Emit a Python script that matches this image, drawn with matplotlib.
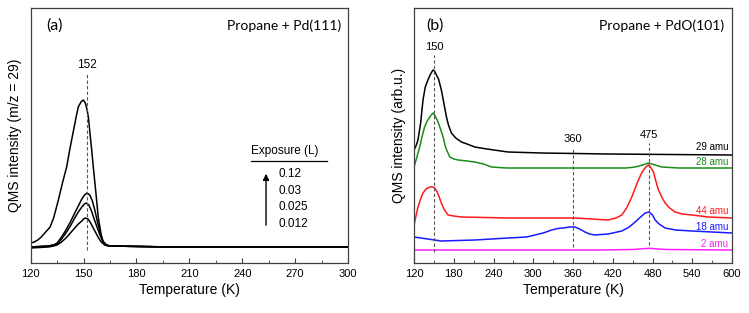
import matplotlib
matplotlib.use("Agg")
import matplotlib.pyplot as plt
from matplotlib.ticker import MultipleLocator

plt.rcParams['font.family'] = ['Liberation Sans', 'DejaVu Sans']

# ---------------- Panel (a) data ----------------
a_T_012 = [120, 122, 124, 126, 128, 131, 133, 135.7, 138, 140.4, 142, 144, 146, 147, 148.5, 149.8, 151, 152, 152.8, 153.6, 154.5, 155.5, 157, 158.3, 160, 161.2, 162.5, 165, 200, 250, 300]
a_I_012 = [20, 21, 23, 26, 30, 36, 45, 63, 80, 96, 112, 130, 148, 156, 161, 163, 160, 153, 145, 130, 115, 96, 70, 46, 28, 20, 18, 17, 16, 16, 16]

a_T_003 = [120, 130, 133, 135, 137.5, 140, 142.5, 145, 147, 149, 150.5, 152, 153.5, 155, 156.5, 158, 159.5, 161, 163, 165, 200, 250, 300]
a_I_003 = [16, 17, 18, 20, 26, 33, 41, 50, 57, 64, 68, 70, 68, 62, 52, 40, 30, 22, 18, 17, 16, 16, 16]

a_T_0025 = [120, 130, 133, 135, 137.5, 140, 142.5, 145, 147, 149, 150.5, 151.5, 153, 154.5, 156, 158, 159.5, 161, 163, 165, 200, 250, 300]
a_I_0025 = [16, 17, 18, 19, 24, 30, 37, 45, 51, 56, 59, 60, 58, 52, 44, 34, 27, 21, 18, 17, 16, 16, 16]

a_T_0012 = [120, 130, 133, 135, 137.5, 140, 142.5, 145, 147, 149, 150, 151, 152.5, 154, 155.5, 157, 158.5, 160, 162, 164, 200, 250, 300]
a_I_0012 = [15, 16, 17, 18, 21, 25, 30, 35, 39, 42, 44, 45, 44, 40, 35, 30, 25, 21, 18, 17, 16, 16, 16]

a_exposures = ["0.12", "0.03", "0.025", "0.012"]

# ---------------- Panel (b) data ----------------
b_T_29 = [120, 123, 126, 130, 133.6, 137, 141, 145, 148.7, 151, 153.8, 157, 161.3, 165, 169, 172, 176.5, 183, 191.6, 200, 211.8, 230, 262, 312.6, 413, 600]
b_I_29 = [113, 117, 123, 140, 163, 176, 183, 189, 193, 192, 188, 184, 173, 160, 146, 138, 130, 125, 121, 119, 116, 114, 111, 110, 109, 108]

b_T_28 = [120, 124, 128.6, 132, 136, 140, 143.7, 146, 148.7, 152, 156.3, 160, 163.9, 168, 174, 180, 186.6, 200, 211.8, 225, 237, 260, 312.6, 413, 440, 453.8, 465, 474, 484, 494, 520, 600]
b_I_28 = [96, 105, 116, 126, 136, 142, 146, 148, 150, 147, 141, 134, 126, 115, 106, 104, 103, 102, 101, 99, 96, 95, 95, 95, 95, 96, 98, 100, 98, 96, 95, 95]

b_T_44 = [120, 123, 126, 130, 133.6, 138, 143.7, 148, 151.3, 155, 158, 161.3, 166, 171.4, 180, 191.6, 262, 312.6, 363, 413, 425, 433.6, 441, 448.7, 454, 458.8, 463, 466.4, 470, 474, 477, 481.5, 485, 489, 494, 499, 506, 514, 525, 539.5, 564.7, 600]
b_I_44 = [38, 47, 56, 64, 70, 74, 76, 76, 75, 71, 66, 60, 53, 48, 47, 46, 45, 45, 45, 43, 45, 48, 55, 66, 75, 83, 89, 93, 96, 98, 96, 91, 82, 73, 66, 60, 55, 51, 49, 48, 46, 45]

b_T_18 = [120, 161, 212, 262, 290, 302.5, 315, 327.7, 337, 345, 355, 363, 370, 378, 385, 393, 413, 433.6, 445, 453.8, 462, 469, 475, 480, 484, 490, 499, 515, 539.5, 600]
b_I_18 = [26, 22, 23, 25, 26, 28, 30, 33, 34.5, 35, 36, 36, 34, 31, 29, 28, 29, 32, 36, 41, 46, 50, 51, 48, 43, 39, 35, 33, 32, 30]

b_T_2 = [120, 200, 300, 400, 450, 465, 475, 485, 500, 600]
b_I_2 = [13, 13, 13, 13, 13.5, 14.2, 14.7, 14.2, 13.5, 13]

b_masses = ["29 amu", "28 amu", "44 amu", "18 amu", "2 amu"]
b_colors = ["black", "#1a8c1a", "#ff1a1a", "#1a1aff", "#ff1aff"]
b_label_y = [116.3, 100.7, 52, 36.3, 18.7]

fig = plt.figure(figsize=(7.49, 3.13), dpi=100)
W, H = 749, 313
axa = fig.add_axes([30.7 / W, 1 - 263 / H, (348 - 30.7) / W, (263 - 8) / H])
axb = fig.add_axes([414 / W, 1 - 263 / H, (732 - 414) / W, (263 - 8) / H])

frame_col = "#404040"
for ax in (axa, axb):
    for s in ax.spines.values():
        s.set_color(frame_col)
        s.set_linewidth(0.9)
    ax.set_yticks([])
    ax.tick_params(axis='x', which='both', direction='in', top=False, labelsize=8, pad=4, color=frame_col)
    ax.tick_params(axis='x', which='major', length=3.5)
    ax.tick_params(axis='x', which='minor', length=2)
    ax.set_ylim(0, 255)
    ax.set_xlabel("Temperature (K)", fontsize=10, labelpad=3)

# Panel (a)
for T, I in [(a_T_012, a_I_012), (a_T_003, a_I_003), (a_T_0025, a_I_0025), (a_T_0012, a_I_0012)]:
    axa.plot(T, I, color="black", lw=1.1)
axa.set_xlim(120, 300)
axa.xaxis.set_major_locator(MultipleLocator(30))
axa.xaxis.set_minor_locator(MultipleLocator(15))
axa.set_ylabel("QMS intensity (m/z = 29)", fontsize=10, labelpad=6)
axa.plot([152, 152], [13, 190], ls=(0, (3, 2)), color="#555555", lw=0.8)
axa.text(152, 192, "152", ha="center", va="bottom", fontsize=8.5)
axa.text(0.05, 0.93, "(a)", transform=axa.transAxes, fontsize=11.5, family=['Lato', 'DejaVu Sans'], va="center")
axa.text(0.98, 0.93, "Propane + Pd(111)", transform=axa.transAxes, fontsize=10, family=['Lato', 'DejaVu Sans'], ha="right", va="center")
axa.text(264, 112, "Exposure (L)", fontsize=8.5, ha="center", va="center")
axa.plot([245, 288], [102.5, 102.5], color="black", lw=0.9)
axa.annotate("", xy=(253.5, 92), xytext=(253.5, 35),
             arrowprops=dict(arrowstyle="-|>", color="black", lw=1.0, mutation_scale=9))
for k, lab in enumerate(a_exposures):
    axa.text(260.5, [89, 72, 55.5, 39][k], lab, fontsize=8.5, ha="left", va="center")

# Panel (b)
for (T, I), c, lab, ly in zip([(b_T_29, b_I_29), (b_T_28, b_I_28), (b_T_44, b_I_44),
                               (b_T_18, b_I_18), (b_T_2, b_I_2)], b_colors, b_masses, b_label_y):
    axb.plot(T, I, color=c, lw=1.1)
    axb.text(594, ly, lab, color=c, fontsize=7, ha="right", va="center")
axb.set_xlim(120, 600)
axb.xaxis.set_major_locator(MultipleLocator(60))
axb.xaxis.set_minor_locator(MultipleLocator(30))
axb.set_ylabel("QMS intensity (arb.u.)", fontsize=10, labelpad=6)
for x0, y0, y1 in [(150, 11, 208), (360, 16, 116), (475, 18, 120)]:
    axb.plot([x0, x0], [y0, y1], ls=(0, (3, 2)), color="#555555", lw=0.8)
    axb.text(x0, y1 + 3, str(x0), ha="center", va="bottom", fontsize=8)
axb.text(0.04, 0.93, "(b)", transform=axb.transAxes, fontsize=11.5, family=['Lato', 'DejaVu Sans'], va="center")
axb.text(0.975, 0.93, "Propane + PdO(101)", transform=axb.transAxes, fontsize=10, family=['Lato', 'DejaVu Sans'], ha="right", va="center")

fig.savefig("out.png", dpi=100)
